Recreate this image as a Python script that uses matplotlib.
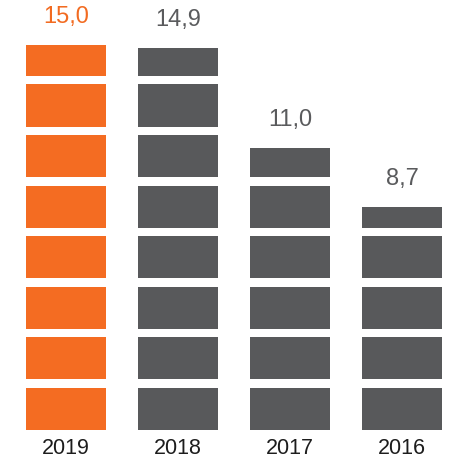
import matplotlib.pyplot as plt
import numpy as np

plt.rcParams["font.family"] = ["Liberation Sans", "DejaVu Sans"]

years = ["2019", "2018", "2017", "2016"]
values = [15.0, 14.9, 11.0, 8.7]
labels = ["15,0", "14,9", "11,0", "8,7"]
bar_colors = ["#F46C22", "#58595B", "#58595B", "#58595B"]
label_colors = ["#F26B21", "#5A5B5D", "#5A5B5D", "#5A5B5D"]

# block layout (data units): each block period, filled part
period = 1.97
filled = 1.64
width = 0.714

fig = plt.figure(figsize=(4.56, 4.65), dpi=100)
ax = fig.add_axes([0, 35 / 465, 1, 430 / 465])

x = np.arange(len(years))
for xi, v, c in zip(x, values, bar_colors):
	start = 0.0
	while start < v:
		h = min(filled, v - start)
		ax.bar(xi, h, width, bottom=start, color=c, linewidth=0)
		start += period

for xi, v, lab, c in zip(x, values, labels, label_colors):
	ax.annotate(lab, (xi, v), xytext=(0, 12), textcoords="offset points",
		ha="center", va="bottom", fontsize=17, color=c)

ax.set_xlim(-66 / 112, -66 / 112 + 456 / 112)
ax.set_ylim(0, 430 / 25.67)
ax.set_xticks(x)
ax.set_xticklabels(years, fontsize=15.5, color="#1d1d1d")
ax.tick_params(axis="x", length=0, pad=6)
ax.set_yticks([])
for s in ax.spines.values():
	s.set_visible(False)
ax.patch.set_alpha(0)

fig.savefig("out.png", dpi=100, facecolor="white")
